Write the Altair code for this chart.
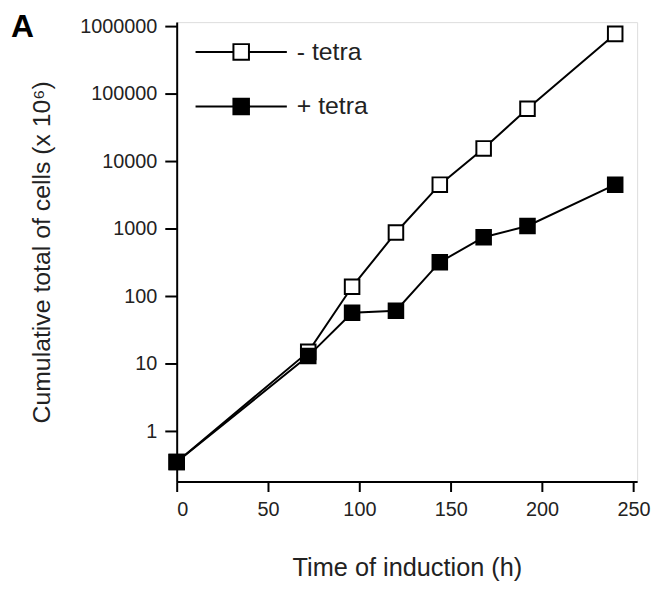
import altair as alt
import pandas as pd

hours = [0, 72, 96, 120, 144, 168, 192, 240]
minus_tetra = [0.35, 15, 138, 880, 4500, 15500, 60000, 770000]
plus_tetra = [0.35, 13, 57, 61, 320, 750, 1100, 4500]
series_names = ["- tetra", "+ tetra"]

rows = []
for h, v in zip(hours, minus_tetra):
    rows.append({"hours": h, "cells": v, "series": series_names[0]})
for h, v in zip(hours, plus_tetra):
    rows.append({"hours": h, "cells": v, "series": series_names[1]})
df = pd.DataFrame(rows)

FONT = "Liberation Sans"

x = alt.X("hours:Q", title="Time of induction (h)",
          scale=alt.Scale(domain=[0, 252], nice=False, zero=False),
          axis=alt.Axis(values=[0, 50, 100, 150, 200, 250], grid=False,
                        tickSize=10, tickWidth=2, domainWidth=2,
                        labelFontSize=20, titleFontSize=25.5, labelPadding=8,
                        titlePadding=37, labelFont=FONT, titleFont=FONT,
                        titleFontWeight="normal", labelColor="#222", titleColor="#222",
                        domainColor="black", tickColor="black"))
y = alt.Y("cells:Q", title="Cumulative total of cells (x 10⁶)",
          scale=alt.Scale(type="log", domain=[0.18, 1.15e6], nice=False),
          axis=alt.Axis(values=[1, 10, 100, 1000, 10000, 100000, 1000000], format="d",
                        grid=False, tickSize=12, tickWidth=2, domainWidth=2,
                        labelFontSize=20, titleFontSize=25, labelPadding=8,
                        titlePadding=25, labelFont=FONT, titleFont=FONT,
                        titleFontWeight="normal", labelColor="#222", titleColor="#222",
                        domainColor="black", tickColor="black"))

lines = alt.Chart(df).mark_line(color="black", strokeWidth=2).encode(
    x=x, y=y, detail="series:N", order="hours:Q")

sym = "M-2,0 H-0.34 M0.34,0 H2 M-0.34,-0.34 H0.34 V0.34 H-0.34 Z"
points = alt.Chart(df).mark_point(shape="square", filled=True, size=215,
                                  stroke="black", strokeWidth=2, opacity=1).encode(
    x=x, y=y,
    fill=alt.Fill("series:N",
                  scale=alt.Scale(domain=series_names, range=["white", "black"]),
                  legend=alt.Legend(title=None, orient="none", legendX=41, legendY=6,
                                    symbolType=sym, symbolSize=2116,
                                    symbolStrokeColor="black", symbolStrokeWidth=2,
                                    labelFontSize=25, labelFont=FONT, labelColor="#222",
                                    rowPadding=18, labelOffset=32, symbolOpacity=1)))

chart = alt.layer(lines, points).properties(
    width=464, height=463,
    autosize=alt.AutoSizeParams(type="none"),
    padding={"left": 170, "top": 12, "right": 16, "bottom": 101},
    title=alt.TitleParams("A", anchor="start", frame="group", dx=-167, dy=32,
                          fontSize=32, fontWeight="bold", font=FONT, color="black"),
).configure_view(stroke="black", strokeWidth=2).configure(background="white")

chart.save("out.html", embed_options={"renderer": "svg", "actions": False})
